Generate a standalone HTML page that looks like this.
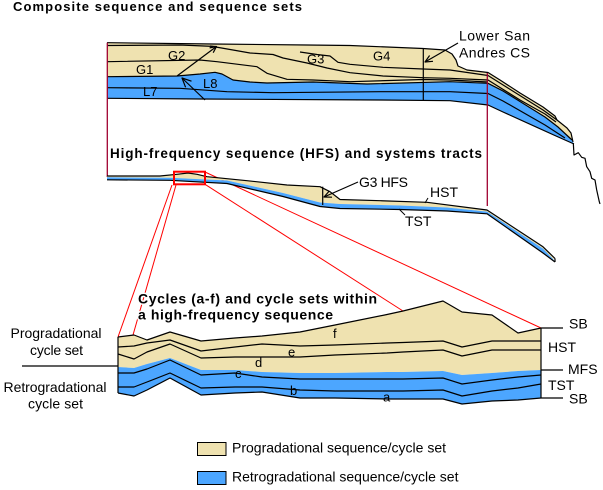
<!DOCTYPE html>
<html><head><meta charset="utf-8">
<style>
html,body{margin:0;padding:0;background:#fff;}
svg{display:block;}
text{font-family:"Liberation Sans",Arial,sans-serif;fill:#000;}
.b{font-weight:bold;}
.k{fill:none;stroke:#000;stroke-width:1.2;stroke-linejoin:round;}
.r{fill:none;stroke:#ff0000;stroke-width:1;}
.halo{stroke:#fff;stroke-width:3;paint-order:stroke;stroke-linejoin:round;}
</style></head><body>
<svg width="603" height="490" viewBox="0 0 603 490" xmlns="http://www.w3.org/2000/svg">
<rect width="603" height="490" fill="#fff"/>

<text x="13" y="11" class="b" font-size="13" textLength="289" lengthAdjust="spacing">Composite sequence and sequence sets</text>

<!-- ===== Top diagram ===== -->
<polygon fill="#EFE2B0" points="107,42.7 213,44 307,45 350,45.5 423,48.5 445,50 452,54 456,60 458,66 467,70 488,72.5 500,80 520,93 543,107 555,116 557,120 567,128 571,133 573,142 574,144 556,136 503,112 488,105 450,100.7 380,100 200,99 107,98.3"/>
<polygon fill="#4CA6FF" points="107,76.7 177,76 200,74 215,72.3 222,74 233,80 250,82 267,83 313,82 367,84 450,81.7 488,83.3 503,91 545,117 558,127 572,140 574,144 556,136 503,112 488,105 450,100.7 380,100 200,99 107,98.3"/>
<polyline class="k" points="107,42.7 213,44 307,45 350,45.5 423,48.5 445,50 452,54 456,60 458,66 467,70 488,72.5 500,80 520,93 543,107 555,116 557,120 567,128 571,133 573,142"/>
<polyline class="k" points="107,45.5 180,45 216,46.5"/>
<polyline class="k" points="210,46 233,50 250,53 273,54.5 283,58 307,63 327,68 350,72.7 383,76 423,77.7 450,78.3 488,80 520,100 545,114 556,122"/>
<polyline class="k" points="300,52 317,54.5 330,56 338,62.3 350,64.3 383,67.3 423,69 450,70 488,75.5 543,110 557,120"/>
<polyline class="k" points="107,61.7 200,60 217,61.7 257,66.7 267,73.3 287,79.3 313,80 350,81.7 423,79.5 450,80 488,82"/>
<polyline class="k" points="107,76.7 177,76 200,74 215,72.3 222,74 233,80 250,82 267,83 313,82 367,84 450,81.7 488,83.3 503,91 545,117 558,127 572,140"/>
<polyline class="k" points="107,87.7 180,88.3 227,91.7 273,92.7 380,91.7 450,91.7 488,93.5 503,101 545,125 565,138"/>
<polyline class="k" points="107,98.3 200,99 380,100 450,100.7 488,105 503,112 556,136 574,144"/>
<line x1="423.3" y1="49" x2="423.3" y2="100.7" stroke="#000" stroke-width="1.2"/>
<line x1="107.3" y1="42.7" x2="107.3" y2="177" stroke="#A00030" stroke-width="1.3"/>
<line x1="487.3" y1="73" x2="487.3" y2="206" stroke="#A00030" stroke-width="1.3"/>
<polyline class="k" stroke-width="1.6" points="573.3,143 574,155 578.3,152.7 581.7,157.3 585,158.3 586.7,166.7 590,171.7 591.7,178.3 595,180 596.7,190 599.3,201.7 600,204"/>
<polyline class="k" stroke-width="1" points="177,76 216.5,46.5"/>
<polyline class="k" stroke-width="1" points="209.6,47.9 216.5,46.5 213.2,52.7"/>
<polyline class="k" stroke-width="1" points="205,100 182,78"/>
<polyline class="k" stroke-width="1" points="185.6,87.3 182,78 191.5,81.2"/>
<polyline class="k" stroke-width="1" points="458,43 425,62"/>
<polyline class="k" stroke-width="1" points="433,61.3 425,62 429.6,55.5"/>

<text x="168" y="60" font-size="13">G2</text>
<text x="136" y="74" font-size="13">G1</text>
<text x="143" y="96" font-size="13">L7</text>
<text x="203" y="88" font-size="13">L8</text>
<text x="307" y="63.3" font-size="13">G3</text>
<text x="373" y="60.7" font-size="13">G4</text>
<text x="459" y="40.7" font-size="14" textLength="71" lengthAdjust="spacing">Lower San</text>
<text x="459" y="57.3" font-size="14" textLength="71" lengthAdjust="spacing">Andres CS</text>

<text x="110" y="158" class="b" font-size="13.5" textLength="372" lengthAdjust="spacing">High-frequency sequence (HFS) and systems tracts</text>

<!-- ===== Red zoom lines ===== -->
<line class="r" x1="172" y1="185" x2="118" y2="337"/>
<line class="r" x1="176" y1="185" x2="133" y2="335"/>
<line class="r" x1="205" y1="184.3" x2="403" y2="311"/>
<line class="r" x1="205" y1="172" x2="541" y2="328"/>

<!-- ===== Middle (HFS) band ===== -->
<polygon fill="#EFE2B0" points="107,176 160,176 177,174.3 188,173 197,174.3 207,176.7 247,180.7 287,185 320,186.7 330,191.7 340,199.5 380,200.7 427,202.3 487,210 543,246.8 555,258 553,259 543,248.6 487,211.6 447,207.5 400,205.5 340,204 320,202.5 283,193 227,180.5 170,177.8 107,177.3"/>
<polygon fill="#4CA6FF" points="107,177.3 170,177.8 227,180.5 283,193 320,202.5 340,204 400,205.5 447,207.5 487,211.6 543,248.6 553,259 555,262 543,253 487,213.8 447,211 400,209.5 340,208.5 320,206.5 283,196.5 227,183.5 170,180.3 107,179.8"/>
<polyline class="k" points="107,176 160,176 177,174.3 188,173 197,174.3 207,176.7 247,180.7 287,185 320,186.7 330,191.7 340,199.5 380,200.7 427,202.3 487,210 543,246.8 555,258.5"/>
<polyline class="k" points="107,179.8 170,180.3 227,183.5 283,196.5 320,206.5 340,208.5 400,209.5 447,211 487,213.8 543,253 555,262"/>
<line x1="555" y1="258.5" x2="555" y2="262" stroke="#000" stroke-width="1.2"/>
<line x1="322.7" y1="186.7" x2="322.7" y2="205" stroke="#000" stroke-width="1.2"/>
<rect x="174" y="171.7" width="31" height="12.6" fill="none" stroke="#ff0000" stroke-width="2"/>
<polyline class="k" stroke-width="1" points="358,182 324,197"/>
<polyline class="k" stroke-width="1" points="332,197.2 324,197 329.3,191"/>
<text x="359" y="187" font-size="14" textLength="49" lengthAdjust="spacing">G3 HFS</text>
<line x1="428" y1="198" x2="425" y2="203" stroke="#000" stroke-width="1"/>
<text x="430" y="197" font-size="14">HST</text>
<line x1="399" y1="209" x2="405" y2="215" stroke="#000" stroke-width="1"/>
<text x="405" y="226" font-size="14">TST</text>

<!-- ===== Bottom diagram ===== -->
<text x="138" y="303.5" class="b halo" font-size="14" textLength="239" lengthAdjust="spacing">Cycles (a-f) and cycle sets within</text>
<text x="138" y="319.5" class="b halo" font-size="14" textLength="195" lengthAdjust="spacing">a high-frequency sequence</text>

<polygon fill="#EFE2B0" points="118,337 134,335 147,340 170,332 201,341 235,338 262,336 300,332 335,325 387,314.5 403,311 443,301 462,312 492,315 518,333 541,328 541,370 518,371 492,373 462,375 443,371 403,372 387,372 335,373 300,373 262,372 235,370 201,370 170,358 147,364 134,368 118,367"/>
<polygon fill="#4CA6FF" points="118,367 134,368 147,364 170,358 201,370 235,370 262,372 300,373 335,373 387,372 403,372 443,371 462,375 492,373 518,371 541,370 541,398 518,400 492,401 462,404 443,399 403,399 387,399 335,398 300,398 262,392 235,393 201,395 170,378 147,390 134,396 118,393"/>
<polyline class="k" points="118,337 134,335 147,340 170,332 201,341 235,338 262,336 300,332 335,325 387,314.5 403,311 443,301 462,312 492,315 518,333 541,328"/>
<polyline class="k" points="118,347 134,346 147,343 170,340 201,351 235,347 262,344 300,346 335,345 387,343 403,342.5 443,341 462,347 492,341 518,341 541,341"/>
<polyline class="k" points="118,354 134,359 147,352 170,344 201,358 235,357 262,357 300,357 335,355 387,353 403,352 443,350 462,356 492,350 518,350 541,350"/>
<polyline class="k" points="118,373 134,373 147,369 170,360 201,375 235,373 262,377 300,379 335,379 387,379 403,379 443,378 462,384 492,380 518,377 541,375"/>
<polyline class="k" points="118,387 134,387 147,382 170,373 201,388 235,387 262,387 300,390 335,391 387,391 403,391 443,390 462,396 492,391 518,388 541,384"/>
<polyline class="k" points="118,393 134,396 147,390 170,378 201,395 235,393 262,392 300,398 335,398 387,399 403,399 443,399 462,404 492,401 518,400 541,398"/>
<line x1="118" y1="337" x2="118" y2="393" stroke="#000" stroke-width="1.2"/>
<line x1="541" y1="328" x2="541" y2="398" stroke="#000" stroke-width="1.2"/>
<line x1="541" y1="328" x2="563" y2="328" stroke="#000" stroke-width="1.2"/>
<line x1="541" y1="370" x2="563" y2="370" stroke="#000" stroke-width="1.2"/>
<line x1="541" y1="398" x2="563" y2="398" stroke="#000" stroke-width="1.2"/>
<line x1="22" y1="366" x2="118" y2="366" stroke="#000" stroke-width="1.2"/>

<text x="333" y="338" font-size="13">f</text>
<text x="288" y="356.5" font-size="13">e</text>
<text x="255" y="367" font-size="13">d</text>
<text x="235" y="378" font-size="13">c</text>
<text x="290" y="395" font-size="13">b</text>
<text x="383" y="401.5" font-size="13">a</text>

<text x="569" y="328.5" font-size="14">SB</text>
<text x="548" y="352" font-size="14">HST</text>
<text x="568" y="374" font-size="14">MFS</text>
<text x="548" y="390" font-size="14">TST</text>
<text x="569" y="403.5" font-size="14">SB</text>

<text x="10.5" y="338" font-size="14" textLength="91" lengthAdjust="spacing">Progradational</text>
<text x="30" y="355" font-size="14" textLength="53" lengthAdjust="spacing">cycle set</text>
<text x="3.5" y="392" font-size="14" textLength="103" lengthAdjust="spacing">Retrogradational</text>
<text x="28" y="408.5" font-size="14" textLength="55" lengthAdjust="spacing">cycle set</text>

<!-- ===== Legend ===== -->
<rect x="197.5" y="442.5" width="28.5" height="13" fill="#EFE2B0" stroke="#000" stroke-width="1"/>
<text x="232" y="452.5" font-size="14">Progradational sequence/cycle set</text>
<rect x="197.5" y="471.5" width="28.5" height="13" fill="#4CA6FF" stroke="#000" stroke-width="1"/>
<text x="232" y="481.5" font-size="14">Retrogradational sequence/cycle set</text>
</svg>
</body></html>
